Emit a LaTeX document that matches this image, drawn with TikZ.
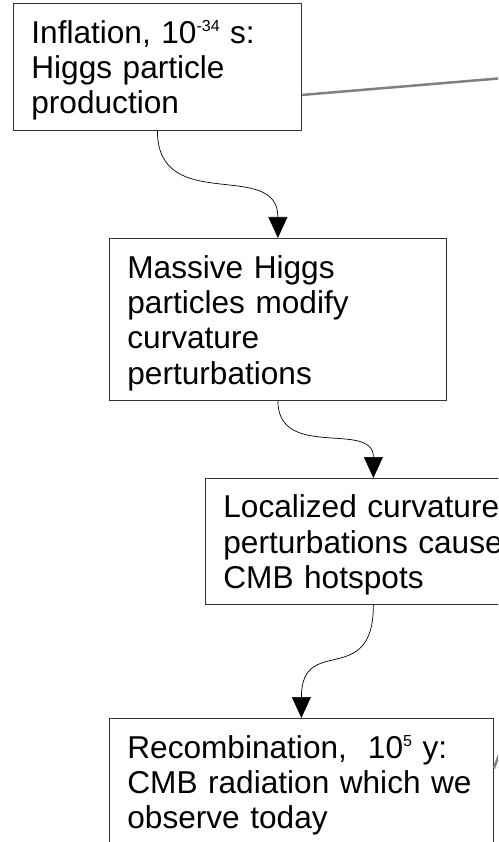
\documentclass[tikz,border=0pt]{standalone}
\usepackage{fontspec}
\setmainfont{Liberation Sans}
\usetikzlibrary{arrows.meta}

\newcommand{\powr}[1]{\raisebox{11.5pt}{\fontsize{16}{16}\selectfont #1}}

\begin{document}
\begin{tikzpicture}[x=1pt,y=-1pt,
	box/.style={draw=black!80, line width=0.8pt, anchor=north west, align=left, inner xsep=18pt, font=\fontsize{31.6}{35.3}\selectfont, execute at begin node={\rule{0pt}{30pt}}},
	flow/.style={-{Triangle[length=21pt,width=19pt]}, line width=0.7pt},
	link/.style={draw=gray, line width=2.5pt}]
		\clip (0,0) rectangle (498,842);
		\node[box, text width=252pt, minimum height=127pt] (infl) at (13,3) {Inflation, 10\powr{-34} s:\\Higgs particle\\production};
		\node[box, text width=301pt, minimum height=162pt] (higgs) at (109,238) {Massive Higgs\\particles modify\\curvature\\perturbations};
		\node[box, text width=300pt, minimum height=126pt] (local) at (205,478) {Localized curvature\\perturbations cause\\CMB hotspots};
		\node[box, text width=348pt, minimum height=127pt] (recomb) at (109,718) {Recombination,\ \ 10\powr{5} y:\\CMB radiation which we\\observe today};
		\coordinate (far1) at (540,75);
		\coordinate (far2) at (515,714);
		\draw[link] (infl.-11) -- (far1);
		\draw[link] (recomb.4) -- (far2);
		\draw[flow] (infl.south) .. controls +(0,85) and +(0,-80) .. (higgs.north);
		\draw[flow] (higgs.south) .. controls +(0,60) and +(0,-58) .. (local.north);
		\draw[flow] (local.south) .. controls +(0,85) and +(0,-85) .. (recomb.north);
	\end{tikzpicture}
\end{document}
